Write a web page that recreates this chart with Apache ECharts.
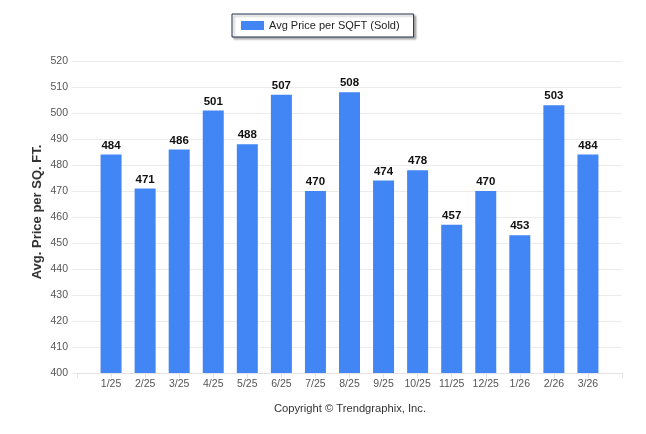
<!DOCTYPE html>
<html><head><meta charset="utf-8">
<script src="https://cdn.jsdelivr.net/npm/echarts@6/dist/echarts.min.js"></script>
<style>html,body{margin:0;padding:0;background:#fff}#c{width:646px;height:434px}</style>
</head><body><div id="c"></div>
<script>
const categories = ['1/25','2/25','3/25','4/25','5/25','6/25','7/25','8/25','9/25','10/25','11/25','12/25','1/26','2/26','3/26'];
const avgPrice = [484,471,486,501,488,507,470,508,474,478,457,470,453,503,484];
const yTicks = {min: 400, max: 520, interval: 10};
const seriesName = 'Avg Price per SQFT (Sold)';
const yTitle = 'Avg. Price per SQ. FT.';
const copyright = 'Copyright \u00A9 Trendgraphix, Inc.';

const FONT = '"Liberation Sans", Arial, sans-serif';
const chart = echarts.init(document.getElementById('c'));
chart.setOption({
  animation: false,
  textStyle: {fontFamily: FONT},
  legend: {
    left: 232, top: 14,
    data: [seriesName],
    itemWidth: 23, itemHeight: 9, itemGap: 4,
    padding: [6, 14, 6, 9],
    borderColor: '#1f2d4d', borderWidth: 1, borderRadius: 0,
    backgroundColor: '#fff',
    shadowColor: 'rgba(0,0,0,0.3)', shadowBlur: 2, shadowOffsetX: 2, shadowOffsetY: 2,
    icon: 'rect',
    textStyle: {fontSize: 11, color: '#222', fontFamily: FONT, padding: [0,0,0,0]}
  },
  grid: [
    {left: 77, right: 24, top: 61, bottom: 61},
    {left: 72, right: 24, top: 61, bottom: 61}
  ],
  xAxis: [
    {
      type: 'value', gridIndex: 0, min: -1, max: 15, interval: 1,
      axisLine: {show: true, lineStyle: {color: '#e3e3e3'}},
      axisTick: {show: true, length: 5, lineStyle: {color: '#e3e3e3'}},
      splitLine: {show: false},
      axisLabel: {
        color: '#555', fontSize: 10.5, margin: 6,
        formatter: v => (v >= 0 && v < categories.length) ? categories[v] : ''
      }
    },
    {type: 'value', gridIndex: 1, min: 0, max: 1, show: false}
  ],
  yAxis: [
    {type: 'value', gridIndex: 0, min: yTicks.min, max: yTicks.max, interval: yTicks.interval, show: false},
    {
      type: 'value', gridIndex: 1, min: yTicks.min, max: yTicks.max, interval: yTicks.interval,
      axisLine: {show: false}, axisTick: {show: false},
      splitLine: {lineStyle: {color: '#ececec'}},
      axisLabel: {color: '#555', fontSize: 10.5, margin: 4}
    }
  ],
  series: [{
    name: seriesName,
    type: 'bar',
    xAxisIndex: 0, yAxisIndex: 0,
    barWidth: 21,
    itemStyle: {color: '#4285F4'},
    data: avgPrice.map((v, i) => [i, v]),
    label: {
      show: true, position: 'top', distance: 3,
      formatter: p => p.value[1],
      color: '#111', fontWeight: 'bold', fontSize: 11.5
    }
  }],
  graphic: [
    {
      type: 'text', x: 37.5, y: 212, rotation: Math.PI / 2,
      style: {text: yTitle, font: 'bold 13px ' + FONT, fill: '#333', align: 'center', verticalAlign: 'middle'}
    },
    {
      type: 'text', x: 350, y: 409,
      style: {text: copyright, font: '11.2px ' + FONT, fill: '#333', align: 'center', verticalAlign: 'middle'}
    }
  ]
});
</script></body></html>
